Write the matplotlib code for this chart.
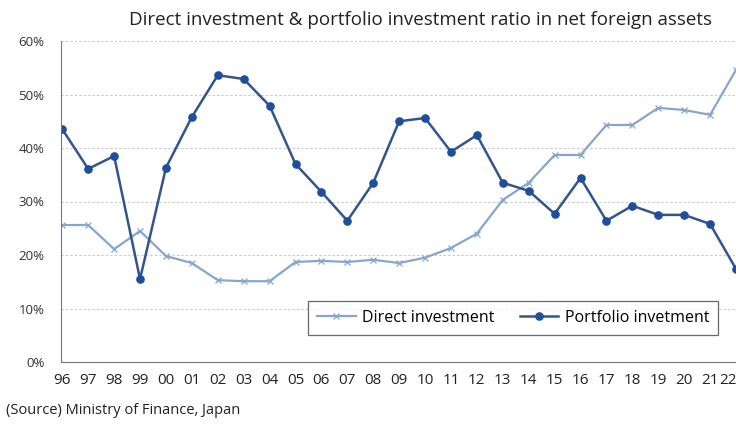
import matplotlib
matplotlib.use("Agg")
import matplotlib.pyplot as plt
from matplotlib.ticker import PercentFormatter
from matplotlib.transforms import ScaledTranslation

years = ["96", "97", "98", "99", "00", "01", "02", "03", "04", "05", "06", "07", "08",
         "09", "10", "11", "12", "13", "14", "15", "16", "17", "18", "19", "20", "21", "22"]
direct = [25.6, 25.6, 21.1, 24.5, 19.8, 18.5, 15.3, 15.1, 15.1, 18.7, 18.9, 18.7, 19.1,
          18.5, 19.5, 21.3, 24.0, 30.3, 33.5, 38.7, 38.7, 44.3, 44.3, 47.5, 47.1, 46.2, 54.6]
portfolio = [43.5, 36.1, 38.5, 15.5, 36.3, 45.8, 53.6, 52.9, 47.9, 37.0, 31.8, 26.4, 33.5,
             45.0, 45.6, 39.3, 42.4, 33.5, 32.0, 27.7, 34.4, 26.4, 29.2, 27.5, 27.5, 25.8, 17.4]

plt.rcParams["font.family"] = ["Open Sans", "DejaVu Sans"]

fig = plt.figure(figsize=(7.36, 4.28), dpi=100)
ax = fig.add_axes([61 / 736, 66 / 428, 675 / 736, 321 / 428])

x = range(len(years))
ax.plot(x, direct, color="#86a6cc", lw=1.6, marker="x", ms=5, mew=0.9,
        label="Direct investment")
ax.plot(x, portfolio, color="#34558c", lw=1.8, marker="o", ms=5.2,
        mfc="#1f4e9a", mec="#1f4e9a", label="Portfolio invetment")

ax.set_ylim(0, 60)
ax.set_xlim(-0.05, len(years) - 1)
ax.yaxis.set_major_formatter(PercentFormatter(decimals=0))
ax.set_yticks(range(0, 61, 10))
ax.set_xticks(list(x))
ax.set_xticklabels(years)
ax.tick_params(axis="y", length=0, labelsize=9.5, colors="#333333", pad=12)
ax.tick_params(axis="x", length=0, labelsize=11, colors="#222222", pad=8)
ax.grid(axis="y", color="#c8c8c8", lw=0.8, ls=(0, (2, 2)))
ax.set_axisbelow(True)
for side in ["top", "right"]:
    ax.spines[side].set_visible(False)
ax.spines["left"].set_color("#777777")
ax.spines["bottom"].set_color("#777777")

# keep the last year label inside the canvas
last = ax.get_xticklabels()[-1]
last.set_transform(last.get_transform() + ScaledTranslation(-6 / 72, 0, fig.dpi_scale_trans))

leg = ax.legend(loc="lower right", bbox_to_anchor=(0.985, 0.06), ncol=2, fontsize=11.5,
                frameon=True, fancybox=False, handlelength=2.4, columnspacing=1.6,
                borderpad=0.55, handletextpad=0.4)
leg.get_frame().set_edgecolor("#444444")
leg.get_frame().set_linewidth(0.9)

fig.text(0.571, 0.953, "Direct investment & portfolio investment ratio in net foreign assets",
         ha="center", va="center", fontsize=13.5, color="#222222")
fig.text(0.008, 0.042, "(Source) Ministry of Finance, Japan", ha="left", va="center",
         fontsize=10.5, color="#222222")

fig.savefig("out.png", dpi=100)
